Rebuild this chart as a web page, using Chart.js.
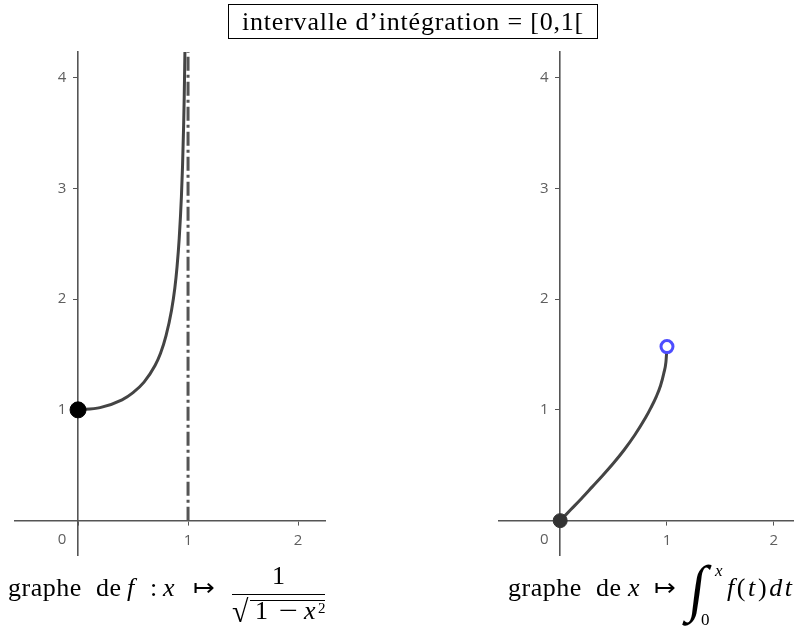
<!DOCTYPE html>
<html>
<head>
<meta charset="utf-8">
<script src="https://cdn.jsdelivr.net/npm/chart.js@4.4.1/dist/chart.umd.min.js"></script>
<style>
  body { margin: 0; background: #fff; }
  #page { position: relative; width: 802px; height: 628px; overflow: hidden; }
  canvas { position: absolute; top: 0; }
  .tex { position: absolute; font-family: "Liberation Serif", serif; font-size: 26px; line-height: 26px; letter-spacing: 0.5px; color: #000; white-space: nowrap; }
  #titre { left: 228px; top: 4px; width: 370px; height: 35px; border: 1px solid #000; box-sizing: border-box; text-align: center; line-height: 33px; letter-spacing: 0.8px; }
  .sm { font-size: 17px; line-height: 17px; letter-spacing: 0; }
</style>
</head>
<body>
<div id="page">
  <canvas id="gauche" width="401" height="628" style="left:0"></canvas>
  <canvas id="droite" width="401" height="628" style="left:401px"></canvas>

  <div class="tex" id="titre">intervalle d’intégration = [0,1[</div>

  <!-- legende gauche -->
  <div class="tex" style="left:8px; top:575px">graphe</div>
  <div class="tex" style="left:96px; top:575px">de</div>
  <div class="tex" style="left:127px; top:575px"><i>f</i></div>
  <div class="tex" style="left:150px; top:575px">:</div>
  <div class="tex" style="left:163px; top:575px"><i>x</i></div>
  <div class="tex" style="left:193px; top:575px">↦</div>
  <div class="tex" style="left:232px; top:563px; width:93px; text-align:center; letter-spacing:0">1</div>
  <div style="position:absolute; left:232px; top:594px; width:93px; height:1px; background:#000"></div>
  <div class="tex" style="left:232px; top:596px; font-size:30px; line-height:30px; letter-spacing:0; transform:scaleY(1.05); transform-origin: top left">√</div>
  <div style="position:absolute; left:250px; top:600px; width:75px; height:1px; background:#000"></div>
  <div class="tex" style="left:255px; top:598px">1</div>
  <div class="tex" style="left:279px; top:598px; transform:scaleX(1.3); transform-origin: top left">−</div>
  <div class="tex" style="left:304px; top:598px"><i>x</i></div>
  <div class="tex sm" style="left:318px; top:601px; font-size:15px; line-height:15px">2</div>

  <!-- legende droite -->
  <div class="tex" style="left:508px; top:575px">graphe</div>
  <div class="tex" style="left:596px; top:575px">de</div>
  <div class="tex" style="left:628px; top:575px"><i>x</i></div>
  <div class="tex" style="left:654px; top:575px">↦</div>
  <div class="tex" style="left:694px; top:557px; font-size:48px; line-height:48px; letter-spacing:0; transform:scale(1.2,1.3) skewX(-8deg); transform-origin: top left">∫</div>
  <div class="tex sm" style="left:715px; top:562px"><i>x</i></div>
  <div class="tex sm" style="left:701px; top:611px">0</div>
  <div class="tex" style="left:727px; top:575px; letter-spacing:2.6px"><i>f</i>(<i>t</i>)<i>dt</i></div>
</div>

<script>
// graduations
const xTicks = [0, 1, 2];
const yTicks = [1, 2, 3, 4];

// f(x) = 1/sqrt(1-x^2)
const fX = [0, 0.2, 0.4, 0.5, 0.6, 0.7, 0.75, 0.8, 0.85, 0.88, 0.9, 0.92, 0.94, 0.95, 0.96, 0.965, 0.972];
const fY = [1, 1.02, 1.09, 1.155, 1.25, 1.40, 1.51, 1.67, 1.90, 2.10, 2.29, 2.55, 2.93, 3.20, 3.57, 3.81, 4.25];

// asymptote x = 1
const asymX = [1, 1];
const asymY = [0, 4.3];

// primitive x -> integrale de 0 a x de f
const FX = [0, 0.1, 0.2, 0.3, 0.4, 0.5, 0.6, 0.7, 0.8, 0.85, 0.9, 0.94, 0.97, 0.99, 1];
const FY = [0, 0.10, 0.20, 0.305, 0.41, 0.52, 0.64, 0.775, 0.93, 1.02, 1.12, 1.22, 1.33, 1.43, 1.57];

const axisColor = "#555555";
const curveColor = "#444444";
const labelColor = "#5e5e5e";
const tickFont = { family: "Open Sans", size: 15 };

function pts(xs, ys) {
  return xs.map((x, i) => ({ x: x, y: ys[i] }));
}

// le "0" de l'origine est decale a gauche de l'axe
const zeroLabel = {
  id: "zeroLabel",
  afterDraw(chart) {
    const ctx = chart.ctx;
    const x = chart.scales.x.getPixelForValue(0) - 16;
    const y = chart.scales.y.getPixelForValue(0) + 19;
    ctx.save();
    ctx.font = "15px 'Open Sans'";
    ctx.fillStyle = labelColor;
    ctx.textAlign = "center";
    ctx.textBaseline = "middle";
    ctx.fillText("0", x, y);
    ctx.restore();
  }
};

function scales(xmin, xmax) {
  return {
    x: {
      type: "linear",
      min: xmin,
      max: xmax,
      position: { y: 0 },
      afterBuildTicks: s => { s.ticks = xTicks.map(v => ({ value: v })); },
      border: { color: axisColor, width: 1.6 },
      grid: { drawOnChartArea: false, drawTicks: true, tickLength: 4, color: axisColor },
      ticks: {
        padding: 7,
        color: labelColor,
        font: tickFont,
        callback: v => (v === 0 ? "" : String(v))
      }
    },
    y: {
      type: "linear",
      min: -0.31,
      max: 4.23,
      position: { x: 0 },
      afterBuildTicks: s => { s.ticks = yTicks.map(v => ({ value: v })); },
      border: { color: axisColor, width: 1.6 },
      grid: { drawOnChartArea: false, drawTicks: true, tickLength: 4, color: axisColor },
      ticks: {
        padding: 6,
        color: labelColor,
        font: tickFont,
        callback: v => String(v) + "   "
      }
    }
  };
}

const common = {
  responsive: false,
  animation: false,
  plugins: { legend: { display: false }, tooltip: { enabled: false } },
  elements: { point: { radius: 0 } }
};

new Chart(document.getElementById("gauche"), {
  type: "line",
  data: {
    datasets: [
      {
        data: pts([0], [1]),
        pointRadius: 8,
        pointBackgroundColor: "#000",
        pointBorderColor: "#000",
        showLine: false,
        clip: false
      },
      {
        data: pts(fX, fY),
        borderColor: curveColor,
        borderWidth: 3,
        cubicInterpolationMode: "monotone",
        pointRadius: 0
      },
      {
        data: pts(asymX, asymY),
        borderColor: "#555",
        borderWidth: 3,
        borderDash: [14, 4, 3, 4],
        pointRadius: 0
      }
    ]
  },
  options: Object.assign({}, common, {
    layout: { padding: { left: 15, right: 76, top: 52, bottom: 73 } },
    scales: scales(-0.573, 2.245)
  }),
  plugins: [zeroLabel]
});

new Chart(document.getElementById("droite"), {
  type: "line",
  data: {
    datasets: [
      {
        data: pts([1], [1.5708]),
        pointRadius: 6,
        pointBorderWidth: 3,
        pointBackgroundColor: "#fff",
        pointBorderColor: "#4d4dff",
        showLine: false,
        clip: false
      },
      {
        data: pts([0], [0]),
        pointRadius: 7,
        pointBackgroundColor: "#333",
        pointBorderColor: "#333",
        showLine: false,
        clip: false
      },
      {
        data: pts(FX, FY),
        borderColor: curveColor,
        borderWidth: 3,
        cubicInterpolationMode: "monotone",
        pointRadius: 0
      }
    ]
  },
  options: Object.assign({}, common, {
    layout: { padding: { left: 98, right: 0, top: 52, bottom: 73 } },
    scales: scales(-0.573, 2.18)
  }),
  plugins: [zeroLabel]
});
</script>
</body>
</html>
